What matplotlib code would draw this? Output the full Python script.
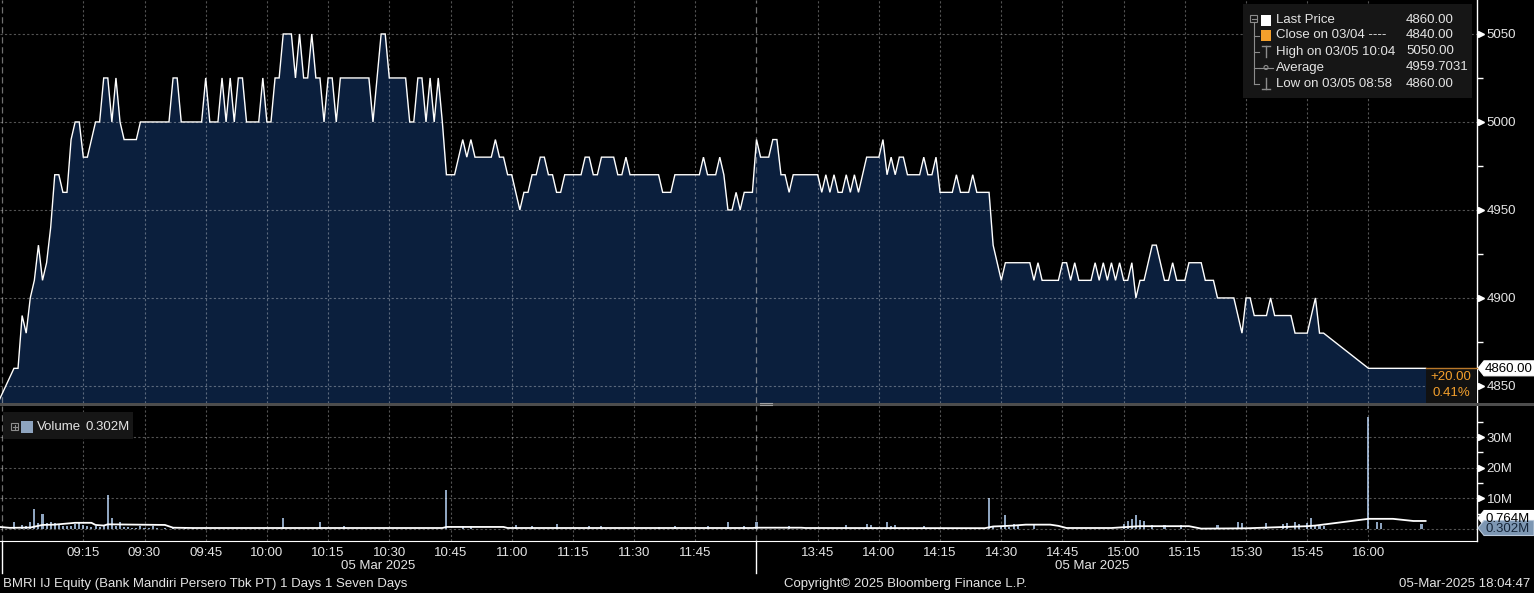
"""BMRI IJ intraday (05 Mar 2025) - Bloomberg style price + volume panel."""
import matplotlib
matplotlib.use("Agg")
import matplotlib.pyplot as plt
from matplotlib.patches import Rectangle, Polygon, Circle
from matplotlib.ticker import FixedLocator, FuncFormatter
import matplotlib.transforms as mtrans

plt.rcParams["font.family"] = ["Liberation Sans", "DejaVu Sans"]

BG = "#000000"
FILL = "#0b1f3d"
TXT = "#e4e4e4"
VOLC = "#8ea4bf"
ORANGE = "#f4a02c"
BOXC = "#161616"
ICON = "#8c8c8c"

# 1-minute closes (vertices of the line), session 1 ends 12:00, session 2 starts 13:30
PRICE_TIMES = [
    "08:54", "08:58", "08:59", "09:00", "09:01", "09:02", "09:03", "09:04", "09:05", "09:06",
    "09:07", "09:08", "09:09", "09:10", "09:11", "09:12", "09:13", "09:14", "09:15", "09:16",
    "09:17", "09:18", "09:19", "09:20", "09:21", "09:22", "09:23", "09:24", "09:25", "09:28",
    "09:29", "09:36", "09:37", "09:38", "09:39", "09:44", "09:45", "09:46", "09:48", "09:49",
    "09:50", "09:51", "09:52", "09:53", "09:54", "09:55", "09:58", "09:59", "10:00", "10:01",
    "10:02", "10:03", "10:04", "10:06", "10:07", "10:08", "10:09", "10:10", "10:11", "10:12",
    "10:13", "10:14", "10:15", "10:16", "10:17", "10:18", "10:25", "10:26", "10:28", "10:29",
    "10:30", "10:34", "10:35", "10:36", "10:37", "10:38", "10:39", "10:40", "10:41", "10:42",
    "10:43", "10:44", "10:46", "10:48", "10:49", "10:50", "10:51", "10:55", "10:56", "10:57",
    "10:58", "10:59", "11:00", "11:02", "11:03", "11:04", "11:05", "11:06", "11:07", "11:08",
    "11:09", "11:10", "11:11", "11:12", "11:13", "11:17", "11:18", "11:19", "11:20", "11:21",
    "11:22", "11:25", "11:26", "11:27", "11:28", "11:29", "11:36", "11:37", "11:39", "11:40",
    "11:46", "11:47", "11:48", "11:50", "11:51", "11:52", "11:53", "11:54", "11:55", "11:56",
    "11:57", "11:59",
    "13:30", "13:31", "13:33", "13:34", "13:35", "13:36", "13:37", "13:38", "13:39", "13:45",
    "13:46", "13:47", "13:48", "13:49", "13:50", "13:51", "13:52", "13:53", "13:54", "13:55",
    "13:56", "13:57", "14:00", "14:01", "14:02", "14:03", "14:04", "14:05", "14:06", "14:07",
    "14:10", "14:11", "14:12", "14:13", "14:14", "14:15", "14:18", "14:19", "14:20", "14:22",
    "14:23", "14:24", "14:27", "14:28", "14:30", "14:31", "14:37", "14:38", "14:39", "14:40",
    "14:44", "14:45", "14:46", "14:47", "14:48", "14:49", "14:52", "14:53", "14:54", "14:55",
    "14:56", "14:57", "14:58", "14:59", "15:00", "15:01", "15:02", "15:03", "15:04", "15:05",
    "15:07", "15:08", "15:10", "15:11", "15:12", "15:13", "15:15", "15:16", "15:19", "15:20",
    "15:22", "15:23", "15:27", "15:29", "15:30", "15:31", "15:32", "15:35", "15:36", "15:37",
    "15:41", "15:42", "15:45", "15:47", "15:48", "15:49", "16:00", "16:14",
]
PRICES = [
    4840, 4860, 4860, 4890, 4880, 4900, 4910, 4930, 4910, 4920,
    4940, 4970, 4970, 4960, 4960, 4990, 5000, 5000, 4980, 4980,
    4990, 5000, 5000, 5025, 5025, 5000, 5025, 5000, 4990, 4990,
    5000, 5000, 5025, 5025, 5000, 5000, 5025, 5000, 5000, 5025,
    5000, 5025, 5000, 5025, 5025, 5000, 5000, 5025, 5000, 5000,
    5025, 5025, 5050, 5050, 5025, 5050, 5025, 5025, 5050, 5025,
    5025, 5000, 5025, 5025, 5000, 5025, 5025, 5000, 5050, 5050,
    5025, 5025, 5000, 5000, 5025, 5025, 5000, 5025, 5000, 5025,
    5000, 4970, 4970, 4990, 4980, 4990, 4980, 4980, 4990, 4980,
    4980, 4970, 4970, 4950, 4960, 4960, 4970, 4970, 4980, 4980,
    4970, 4970, 4960, 4960, 4970, 4970, 4980, 4980, 4970, 4970,
    4980, 4980, 4970, 4970, 4980, 4970, 4970, 4960, 4960, 4970,
    4970, 4980, 4970, 4970, 4980, 4970, 4950, 4950, 4960, 4950,
    4960, 4960,
    4990, 4980, 4980, 4990, 4990, 4970, 4970, 4960, 4970, 4970,
    4960, 4970, 4960, 4970, 4960, 4960, 4970, 4960, 4970, 4960,
    4970, 4980, 4980, 4990, 4970, 4980, 4970, 4980, 4980, 4970,
    4970, 4980, 4970, 4970, 4980, 4960, 4960, 4970, 4960, 4960,
    4970, 4960, 4960, 4930, 4910, 4920, 4920, 4910, 4920, 4910,
    4910, 4920, 4920, 4910, 4920, 4910, 4910, 4920, 4910, 4920,
    4910, 4920, 4910, 4920, 4910, 4910, 4920, 4900, 4910, 4910,
    4930, 4930, 4910, 4910, 4920, 4910, 4910, 4920, 4920, 4910,
    4910, 4900, 4900, 4880, 4900, 4900, 4890, 4890, 4900, 4890,
    4890, 4880, 4880, 4900, 4880, 4880, 4860, 4860,
]

# volume per minute (millions of shares)
VOL_TIMES = [
    "08:58", "09:00", "09:01", "09:02", "09:03", "09:04", "09:05", "09:06", "09:07", "09:08",
    "09:09", "09:10", "09:11", "09:12", "09:13", "09:14", "09:15", "09:16", "09:17", "09:18",
    "09:19", "09:20", "09:21", "09:22", "09:23", "09:24", "09:25", "09:26", "09:27", "09:28",
    "09:29", "09:30", "09:31", "09:32", "09:33", "09:35", "09:37", "09:40", "09:42", "10:03",
    "10:04", "10:13", "10:19", "10:44", "10:48", "10:50", "11:01", "11:05", "11:11", "11:19",
    "11:22", "11:36", "11:40", "11:48", "11:53", "11:57",
    "13:30", "13:38", "13:52", "13:57", "13:58", "14:02", "14:03", "14:04", "14:11", "14:27",
    "14:28", "14:30", "14:31", "14:32", "14:33", "14:34", "14:38", "15:00", "15:01", "15:02",
    "15:03", "15:04", "15:05", "15:07", "15:10", "15:14", "15:23", "15:28", "15:29", "15:35",
    "15:39", "15:40", "15:42", "15:43", "15:45", "15:46", "15:47", "15:48", "15:49", "16:00",
    "16:02", "16:03", "16:13",
]
VOLUMES = [
    2.2, 1.3, 1.1, 2.2, 6.4, 2.0, 5.0, 2.0, 2.4, 2.0,
    1.5, 0.9, 0.9, 1.1, 1.5, 2.0, 1.3, 0.9, 0.65, 1.1,
    0.65, 1.3, 11.0, 3.5, 0.9, 2.4, 0.65, 0.65, 0.4, 0.4,
    1.1, 0.4, 0.4, 1.1, 0.4, 0.4, 0.3, 0.3, 0.3, 0.4,
    3.5, 2.2, 0.8, 12.8, 1.0, 0.8, 1.3, 1.0, 1.5, 0.8,
    1.0, 0.5, 0.8, 1.0, 2.2, 0.8,
    2.4, 0.8, 1.2, 1.7, 1.4, 2.2, 0.8, 1.4, 0.8, 10.0,
    0.8, 1.0, 4.6, 0.6, 1.7, 0.8, 1.3, 1.7, 2.5, 3.2,
    4.4, 3.0, 2.5, 1.3, 1.3, 1.3, 1.3, 2.2, 1.9, 1.9,
    1.5, 1.8, 2.2, 1.6, 2.1, 3.7, 1.0, 1.0, 0.8, 36.5,
    2.4, 1.8, 1.7,
]

# white volume study line (millions)
MA_TIMES = [
    "08:54", "08:57", "09:02", "09:05", "09:08", "09:13", "09:17", "09:18", "09:20", "09:21",
    "09:35", "09:37", "09:42", "10:43", "10:44", "10:58", "10:59", "11:59",
    "13:30", "13:41", "13:42", "14:26", "14:28", "14:30", "14:33", "14:36", "14:42", "14:44",
    "14:46", "14:57", "15:01", "15:04", "15:16", "15:19", "15:30", "15:45", "15:47", "16:00",
    "16:06", "16:11", "16:14",
]
MA_VALUES = [
    0.7, 0.35, 0.45, 1.3, 1.4, 2.0, 2.0, 1.3, 1.1, 1.5,
    1.3, 0.4, 0.3, 0.3, 0.65, 0.65, 0.3, 0.3,
    0.4, 0.4, 0.3, 0.25, 0.8, 0.9, 1.1, 1.4, 1.4, 1.0,
    0.3, 0.3, 0.65, 0.9, 0.9, 0.1, 0.2, 0.9, 1.1, 3.3,
    3.3, 2.6, 2.6,
]

X_TICKS = ["09:15", "09:30", "09:45", "10:00", "10:15", "10:30", "10:45", "11:00", "11:15",
           "11:30", "11:45", "13:45", "14:00", "14:15", "14:30", "14:45", "15:00", "15:15",
           "15:30", "15:45", "16:00"]
PRICE_TICKS = [4850, 4900, 4950, 5000, 5050]
VOL_TICKS = [10, 20, 30]

LEGEND_ROWS = [("Last Price", "4860.00"), ("Close on 03/04 ----", "4840.00"),
               ("High on 03/05 10:04", "5050.00"), ("Average", "4959.7031"),
               ("Low on 03/05 08:58", "4860.00")]
LAST, PREV_CLOSE = 4860, 4840


def tmin(s):
    """Trading-clock minutes from 09:00 with the lunch break (12:00-13:30) removed."""
    h, m = map(int, s.split(":"))
    t = h * 60 + m - 540
    return t - 90 if t >= 270 else t


W, H = 1534, 593
fig = plt.figure(figsize=(W / 100, H / 100), dpi=100, facecolor=BG)
axp = fig.add_axes([0, 1 - 403 / H, 1477 / W, 403 / H], facecolor=BG)
axv = fig.add_axes([0, 1 - 541 / H, 1477 / W, 135 / H], facecolor=BG)

XMIN, XMAX = -5.42, 356.6
px = [tmin(t) for t in PRICE_TIMES]
axp.fill_between(px, PRICES, 4800, color=FILL, lw=0, zorder=1)
axp.plot(px, PRICES, color="white", lw=1.0, zorder=3, solid_joinstyle="miter")
axp.set_xlim(XMIN, XMAX)
axp.set_ylim(4840.3, 5069.3)

vx = [tmin(t) for t in VOL_TIMES]
axv.bar(vx, VOLUMES, width=0.5, color=VOLC, zorder=2, lw=0)
axv.plot([tmin(t) for t in MA_TIMES], MA_VALUES, color="white", lw=1.3, zorder=3)
axv.set_xlim(XMIN, XMAX)
axv.set_ylim(-3.95, 40.2)

xt = [tmin(t) for t in X_TICKS]
grid_kw = dict(color="#ffffff", alpha=0.33, lw=0.8, dashes=(2, 2), zorder=2)
for ax in (axp, axv):
    for s in ("left", "top", "bottom"):
        ax.spines[s].set_visible(False)
    ax.spines["right"].set_color("white")
    ax.spines["right"].set_linewidth(1.0)
    for x in xt:
        ax.axvline(x, **grid_kw)
    ax.axvline(180, color="#bbbbbb", alpha=0.6, lw=0.9, dashes=(5, 3), zorder=2)
    ax.axvline(XMIN + 0.4, color="#bbbbbb", alpha=0.6, lw=0.9, dashes=(5, 3), zorder=2)
    ax.yaxis.tick_right()
    ax.tick_params(axis="y", which="major", length=0, pad=7, labelcolor=TXT, labelsize=9.5)
    ax.tick_params(axis="y", which="minor", length=4, width=1, color="white", direction="out")

for v in PRICE_TICKS:
    axp.axhline(v, **grid_kw)
for v in VOL_TICKS + [0]:
    axv.axhline(v, **grid_kw)

axp.yaxis.set_major_locator(FixedLocator(PRICE_TICKS))
axp.yaxis.set_minor_locator(FixedLocator([4875, 4925, 4975, 5025]))
axp.set_xticks([])
axv.yaxis.set_major_locator(FixedLocator(VOL_TICKS))
axv.yaxis.set_minor_locator(FixedLocator([5, 15, 25, 35]))
axv.yaxis.set_major_formatter(FuncFormatter(lambda v, p: f"{v:.0f}M"))
axv.spines["bottom"].set_visible(True)
axv.spines["bottom"].set_color("white")
axv.set_xticks(xt)
axv.set_xticklabels(X_TICKS)
axv.tick_params(axis="x", length=0, pad=4, labelcolor=TXT, labelsize=9.5)

# arrow heads in front of the right-hand tick labels
for ax, ticks in ((axp, PRICE_TICKS), (axv, VOL_TICKS)):
    tr = mtrans.blended_transform_factory(ax.transAxes, ax.transData)
    ax.plot([1.0025] * len(ticks), ticks, ls="none", marker=">", ms=4.5, color="white",
            transform=tr, clip_on=False, zorder=5)

# overlay in pixel coordinates for the Bloomberg furniture
ov = fig.add_axes([0, 0, 1, 1], zorder=10)
ov.set_xlim(0, W)
ov.set_ylim(H, 0)
ov.axis("off")
ov.patch.set_alpha(0)


def ypix(ax, v):
    return H - ax.transData.transform((0, v))[1]


def xpix(ax, t):
    return ax.transData.transform((t, 0))[0]


def tag(y, label, face, tc, edge=None):
    x0, x1, h = 1478, 1534, 15
    ov.add_patch(Polygon([(x0, y), (x0 + 6, y - h / 2), (x1, y - h / 2), (x1, y + h / 2),
                          (x0 + 6, y + h / 2)], closed=True, fc=face, ec=edge or face, lw=0.8))
    ov.text(x0 + 7, y + 0.5, label, color=tc, fontsize=9.5, va="center", ha="left")


# panel separator with its handle
ov.add_patch(Rectangle((0, 403), W, 3.2, fc="#4d4d4d", lw=0))
for yy in (402.6, 405.0):
    ov.plot([760, 772], [yy, yy], color="#a0a0a0", lw=0.8)

# last price tag and change box
yl = ypix(axp, LAST)
tag(yl, f"{LAST:.2f}", "white", "black")
xbox = xpix(axp, tmin("16:14"))
ov.add_patch(Rectangle((xbox, yl), 1477 - xbox, 403 - yl, fc="#111111", ec="none"))
ov.plot([xbox, 1477], [yl, yl], color="#b9782a", lw=1.0)
chg = LAST - PREV_CLOSE
ov.text(1451, yl + 9, f"+{chg:.2f}", color=ORANGE, fontsize=9.5, ha="center", va="center")
ov.text(1451, yl + 25, f"{chg / PREV_CLOSE * 100:.2f}%", color=ORANGE, fontsize=9.5,
        ha="center", va="center")

# volume tags
tag(518, "0.764M", "white", "black")
tag(528, "0.302M", "#7d97b3", "#16263a", edge="#b8c8da")

# price legend box (top right)
ov.add_patch(Rectangle((1243, 4), 229, 94, fc=BOXC, ec="none"))
rows_y = [20, 35.5, 51.5, 67.5, 84]
ov.add_patch(Rectangle((1250, 15), 7, 7, fc="none", ec=ICON, lw=0.8))
ov.plot([1251.5, 1255.5], [18.5, 18.5], color=ICON, lw=0.8)
ov.plot([1253.5, 1253.5], [22, rows_y[-1]], color=ICON, lw=0.8)
for yy in rows_y[1:]:
    ov.plot([1253.5, 1259], [yy, yy], color=ICON, lw=0.8)
ov.add_patch(Rectangle((1261, 14.5), 10, 11, fc="white", lw=0))
ov.add_patch(Rectangle((1261, 30), 10, 11, fc=ORANGE, lw=0))
ov.plot([1262, 1270], [46, 46], color=ICON, lw=1.0)
ov.plot([1266, 1266], [46, 57], color=ICON, lw=1.0)
ov.plot([1259, 1273], [67.5, 67.5], color=ICON, lw=0.8)
ov.add_patch(Circle((1266, 67.5), 2, fc=BOXC, ec=ICON, lw=0.8))
ov.plot([1266, 1266], [78, 89], color=ICON, lw=1.0)
ov.plot([1262, 1270], [89, 89], color=ICON, lw=1.0)
for (lab, val), yy in zip(LEGEND_ROWS, rows_y):
    ov.text(1276, yy, lab, color=TXT, fontsize=9.5, va="center")
    ov.text(1406, yy, val, color=TXT, fontsize=9.5, va="center")

# volume legend box
ov.add_patch(Rectangle((3, 412), 130, 27, fc=BOXC, ec="none"))
ov.add_patch(Rectangle((11, 423), 7, 7, fc="none", ec=ICON, lw=0.8))
ov.plot([12.5, 16.5], [426.5, 426.5], color=ICON, lw=0.8)
ov.plot([14.5, 14.5], [424.5, 428.5], color=ICON, lw=0.8)
ov.add_patch(Rectangle((21, 421), 12, 12, fc=VOLC, lw=0))
ov.text(37, 427, "Volume", color=TXT, fontsize=9.5, va="center")
ov.text(86, 427, "0.302M", color=TXT, fontsize=9.5, va="center")

# session markers below the axis
for xx in (1.5, xpix(axv, 180)):
    ov.plot([xx, xx], [541, 573], color="white", lw=1.0)

ov.text(378, 566, "05 Mar 2025", color=TXT, fontsize=9.5, ha="center", va="center")
ov.text(1092, 566, "05 Mar 2025", color=TXT, fontsize=9.5, ha="center", va="center")
ov.text(3, 584, "BMRI IJ Equity (Bank Mandiri Persero Tbk PT) 1 Days 1 Seven Days",
        color=TXT, fontsize=9.5, va="center")
ov.text(784, 584, "Copyright\u00a9 2025 Bloomberg Finance L.P.", color=TXT, fontsize=9.5,
        va="center")
ov.text(1530, 584, "05-Mar-2025 18:04:47", color=TXT, fontsize=9.5, va="center", ha="right")

fig.savefig("out.png", dpi=100, facecolor=BG)
